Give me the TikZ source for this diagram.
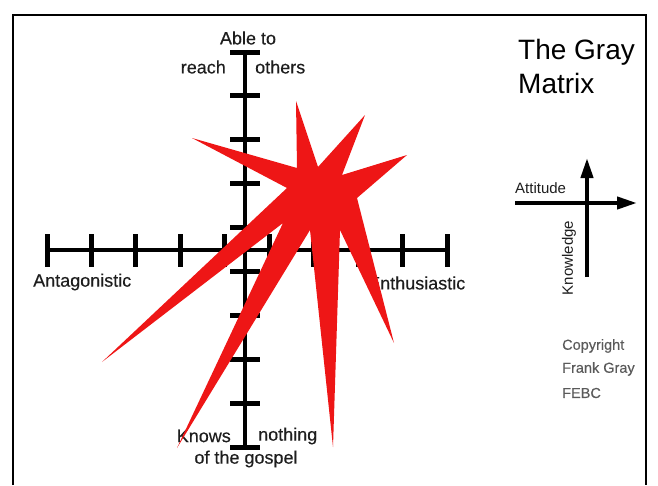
\documentclass[tikz,border=0pt]{standalone}
\usepackage{fontspec}
\setmainfont{Liberation Sans}
\newfontfamily\heavysans[FakeBold=0.35]{Liberation Sans}
\usetikzlibrary{arrows.meta}
\definecolor{starred}{RGB}{238,22,22}
\definecolor{labelgray}{RGB}{30,30,30}
\definecolor{copygray}{RGB}{90,90,90}
\begin{document}
\begin{tikzpicture}[x=1pt,y=-1pt,
  frameline/.style={line width=2pt, black},
  axisline/.style={line width=4pt, black},
  tickmark/.style={line width=5pt, black},
  legendarrow/.style={line width=4pt, black, -{Triangle[length=20pt,width=12pt]}},
  lbl/.style={font=\heavysans\fontsize{18}{20}\selectfont, text=labelgray, inner sep=0pt},
  titletext/.style={font=\fontsize{28}{30}\selectfont, text=black, inner sep=0pt},
  smalltext/.style={font=\fontsize{15}{17}\selectfont, text=labelgray, inner sep=0pt},
  copytext/.style={font=\heavysans\fontsize{14.5}{16}\selectfont, text=copygray, inner sep=0pt}]
\useasboundingbox (0,0) rectangle (658,485);
% frame (open at the bottom)
\draw[frameline] (13,485) -- (13,15) -- (646,15) -- (646,485);
% vertical axis
\coordinate (vtop) at (245,52);
\coordinate (vbot) at (245,447);
\draw[axisline] (vtop) -- (vbot);
\foreach \k in {0,...,9} {
  \draw[tickmark] (230,{52+395/9*\k}) -- (260,{52+395/9*\k});
}
% horizontal axis
\coordinate (hleft) at (47,250);
\coordinate (hright) at (447,250);
\draw[axisline] (hleft) -- (hright);
\foreach \k in {0,...,9} {
  \draw[tickmark] ({47+400/9*\k},234) -- ({47+400/9*\k},267);
}
% axis labels
\node[lbl] (able) at (248,38) {Able to};
\node[lbl, anchor=east] (reach) at (226,67) {reach};
\node[lbl, anchor=west] (others) at (255,67) {others};
\node[lbl, anchor=east] (knows) at (231,436) {Knows};
\node[lbl, anchor=west] (nothing) at (258,436) {nothing};
\node[lbl] (gospel) at (246,459) {of the gospel};
\node[lbl, anchor=west] (antag) at (33,282) {Antagonistic};
\node[lbl, anchor=west] (enthu) at (368,283) {Enthusiastic};
% title
\node[titletext, anchor=west] (title1) at (518,52) {The Gray};
\node[titletext, anchor=west] (title2) at (518,83) {Matrix};
% legend
\coordinate (ah1) at (515,203);
\coordinate (ah2) at (637,203);
\coordinate (av1) at (587,277);
\coordinate (av2) at (587,158);
\draw[legendarrow] (ah1) -- (ah2);
\draw[legendarrow] (av1) -- (av2);
\node[smalltext, anchor=west] (attitude) at (515,188) {Attitude};
\node[smalltext, rotate=90] (knowledge) at (569,258) {Knowledge};
% copyright
\node[copytext, anchor=west] (copy1) at (562,346) {Copyright};
\node[copytext, anchor=west] (copy2) at (562,369) {Frank Gray};
\node[copytext, anchor=west] (copy3) at (562,393) {FEBC};
% red star
\fill[starred] (296,101) -- (318,167) -- (365,115) -- (342,175) -- (407,155)
  -- (357,198) -- (394,343) -- (340,230) -- (333,447) -- (310,230)
  -- (177,448) -- (283,223) -- (102,362) -- (287,188) -- (192,138)
  -- (297,168) -- cycle;
\end{tikzpicture}
\end{document}
